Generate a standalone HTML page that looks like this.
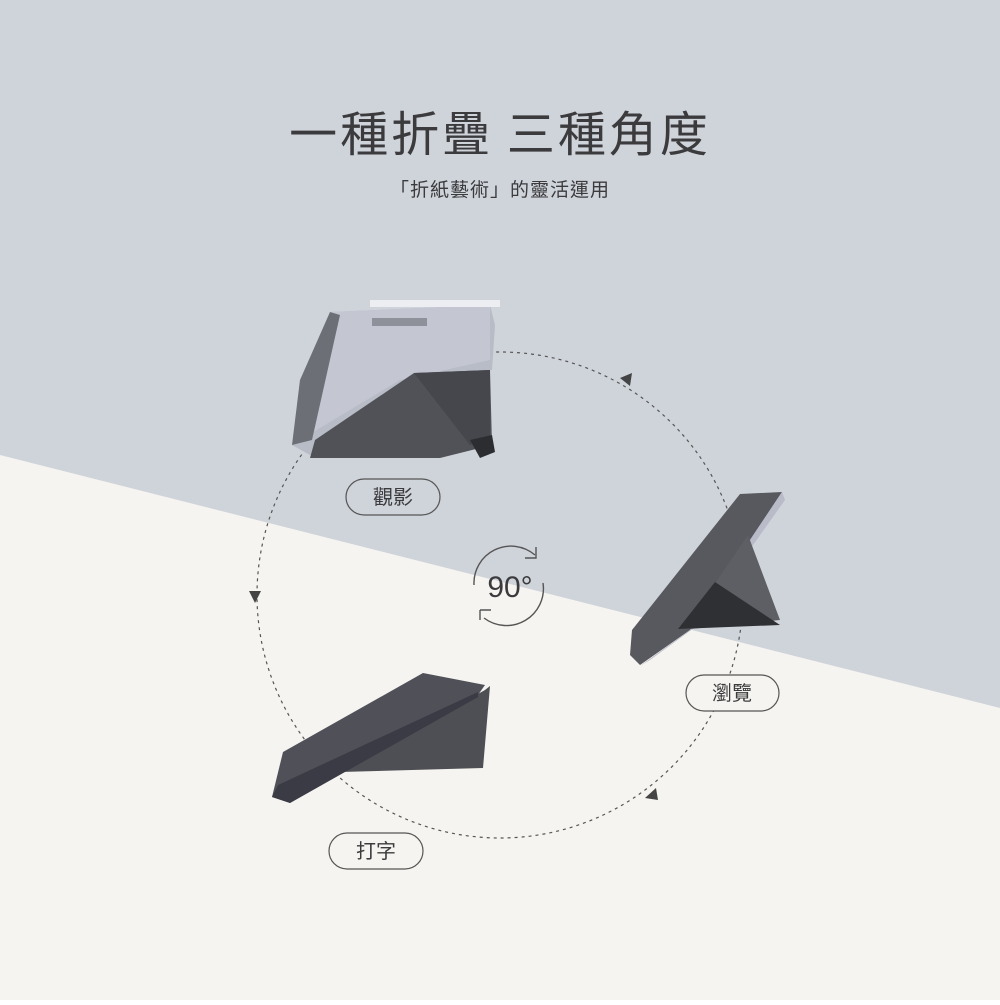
<!DOCTYPE html>
<html><head><meta charset="utf-8"><style>
html,body{margin:0;padding:0}
body{width:1000px;height:1000px;overflow:hidden;font-family:"Liberation Sans","Noto Sans CJK TC",sans-serif}
</style></head><body>
<svg width="1000" height="1000" viewBox="0 0 1000 1000" xmlns="http://www.w3.org/2000/svg">
<rect width="1000" height="1000" fill="#f6f4f0"/>
<polygon points="0,0 1000,0 1000,708 0,455" fill="#cfd3da"/>
<text x="500" y="151" text-anchor="middle" font-size="48" fill="#3b3b3d" font-family="Noto Sans CJK TC, sans-serif" letter-spacing="3">一種折疊 三種角度</text>
<text x="500" y="196" text-anchor="middle" font-size="19" fill="#3b3b3d" font-family="Noto Sans CJK TC, sans-serif" letter-spacing="1">「折紙藝術」的靈活運用</text>
<circle cx="500" cy="595" r="243" fill="none" stroke="#555" stroke-width="1.2" stroke-dasharray="3,4"/>
<polygon points="620,378 632,373 630,386" fill="#444"/>
<polygon points="249,591 261,591 255,603" fill="#444"/>
<polygon points="645,798 656,788 658,800" fill="#444"/>
<!-- tablet 1 -->
<path d="M330,312 L490,305 L495,325 L492,370 L470,373 L470,440 L440,452 L310,455 L292,445 L305,380 Z" fill="#b8bcc6"/>
<path d="M330,312 L490,305 L490,360 L400,380 L300,440 L305,380 Z" fill="#c4c6d2"/>
<path d="M300,380 L330,312 L340,315 L312,440 L292,445 Z" fill="#6c6f76"/>
<rect x="372" y="318" width="55" height="8" fill="#8e919a"/>
<rect x="370" y="300" width="130" height="7" fill="#eceef1"/>
<polygon points="315,440 414,373 490,370 492,445 440,458 310,458" fill="#505257"/>
<polygon points="414,373 490,370 490,440 470,445" fill="#45474c"/>
<polygon points="470,440 492,435 495,452 480,458" fill="#2c2d30"/>
<!-- tablet 2 -->
<polygon points="740,494 782,492 690,630 640,665 630,655 632,630" fill="#58595e"/>
<polygon points="782,492 690,630 640,666 650,660 694,628 785,500" fill="#b9bcc8"/>
<polygon points="716,582 748,535 780,620 680,630" fill="#5d5f64"/>
<polygon points="715,582 780,625 678,629" fill="#2f3034"/>
<!-- tablet 3 -->
<polygon points="340,772 485,690 490,686 483,768" fill="#4e4f54"/>
<polygon points="283,752 423,673 485,685 478,695 290,803 272,797" fill="#505158"/>
<polygon points="278,785 478,692 478,697 290,803 272,797" fill="#3a3b44"/>
<!-- labels -->
<g fill="none" stroke="#555" stroke-width="1.2">
<rect x="346" y="479" width="94" height="36" rx="18" fill="#cfd3da"/>
<rect x="686" y="675" width="93" height="36" rx="18" fill="#f6f4f0"/>
<rect x="329" y="833" width="94" height="36" rx="18" fill="#f6f4f0"/>
<path d="M535,555 A37,37 0 0 0 474,585" stroke-width="1.4"/>
<path d="M543,583 A37,37 0 0 1 484,618" stroke-width="1.4"/>
<path d="M525,558 L536,558 L536,547 M480,610 L480,620 M480,610 L491,610" stroke-width="1.4"/>
</g>
<g font-family="Noto Sans CJK TC, sans-serif" fill="#3b3b3d" font-size="20" text-anchor="middle">
<text x="393" y="504">觀影</text>
<text x="732" y="700">瀏覽</text>
<text x="376" y="858">打字</text>
<text x="510" y="597" font-size="30" font-family="Liberation Sans, sans-serif">90°</text>
</g>
</svg>
</body></html>
